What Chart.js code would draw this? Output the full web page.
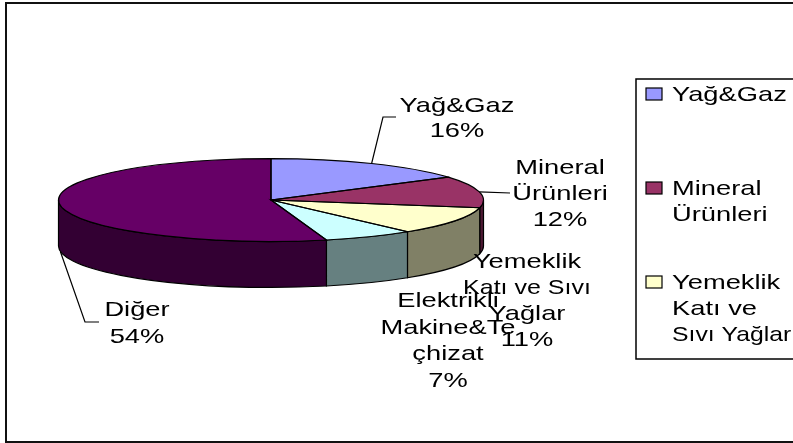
<!DOCTYPE html>
<html>
<head>
<meta charset="utf-8">
<title>Pie</title>
<style>
    html, body { margin: 0; padding: 0; background: #fff; overflow: hidden; }
    canvas { display: block; }
</style>
<script src="https://cdn.jsdelivr.net/npm/chart.js@4/dist/chart.umd.min.js"></script>
</head>
<body>
<canvas id="pie-chart" width="793" height="443"></canvas>
<script>
// values read from the slice edges, the labels show them rounded
var categories = ['Yağ&Gaz', 'Mineral Ürünleri', 'Yemeklik Katı ve Sıvı Yağlar', 'Elektrikli Makine&Teçhizat', 'Diğer'];
var share_values = [15.7, 12.3, 10.9, 6.9, 54.2];
var top_colors = ['#9999FF', '#993366', '#FFFFCC', '#CCFFFF', '#660066'];
var side_colors = ['#4D4D80', '#4D1933', '#808066', '#668080', '#330033'];

// how the labels wrap in the picture
var label_lines = [
    ['Yağ&Gaz'],
    ['Mineral', 'Ürünleri'],
    ['Yemeklik', 'Katı ve Sıvı', 'Yağlar'],
    ['Elektrikli', 'Makine&Te', 'çhizat'],
    ['Diğer']
];
// only three entries fit in the legend box
var legend_lines = [
    ['Yağ&Gaz'],
    ['Mineral', 'Ürünleri'],
    ['Yemeklik', 'Katı ve', 'Sıvı Yağlar']
];

var SQUASH = 0.195;
var DEPTH = 46;
var FONT = '21px "Liberation Sans", Arial, sans-serif';
var STRETCH = 1.3;
// the dotless i runs narrow in the picture
var NARROW_LINES = { 'Katı ve Sıvı': 1.19, 'Sıvı Yağlar': 1.18 };

// center x and first baseline of every label
var label_spots = [[457, 112], [560, 174], [527, 268], [448, 307], [137, 316]];
// line gap per label, the wrapped ones are a bit different
var label_gaps = [25, 26, 26, 26.5, 27];
// leader elbows, first point comes from the slice itself
var leaders = [
    { bend: [[383, 117], [396, 117]], wall: false },
    { bend: [[510, 193]], wall: false },
    null,
    null,
    { bend: [[85, 322], [99, 322]], wall: true }
];
var legend_rows = [
    { marker: 88, baseline: 101 },
    { marker: 182, baseline: 195 },
    { marker: 276, baseline: 289 }
];

function stretchedText(ctx, text, x, y, align) {
    ctx.save();
    ctx.translate(x, y);
    ctx.scale(NARROW_LINES[text] || STRETCH, 1);
    ctx.font = FONT;
    ctx.fillStyle = '#000';
    ctx.textAlign = align;
    ctx.textBaseline = 'alphabetic';
    ctx.fillText(text, 0, 0);
    ctx.restore();
}

function $each(list, fn) {
    for (var i = 0; i < list.length; i++) {
        fn(list[i], i);
    }
}

var Pie3d = {
    id: 'pie3d',
    beforeDatasetsDraw: function (chart) {
        var ctx = chart.ctx;
        var arcs = chart.getDatasetMeta(0).data;

        // side walls, only the part facing us
        ctx.save();
        ctx.lineWidth = 1.2;
        ctx.strokeStyle = '#000';
        $each(arcs, function (arc, idx) {
            var from = Math.max(arc.startAngle, 0);
            var to = Math.min(arc.endAngle, Math.PI);
            if (to <= from) {
                return;
            }
            var rx = arc.outerRadius;
            var ry = rx * SQUASH;
            ctx.beginPath();
            ctx.ellipse(arc.x, arc.y, rx, ry, 0, from, to);
            ctx.ellipse(arc.x, arc.y + DEPTH, rx, ry, 0, to, from, true);
            ctx.closePath();
            ctx.fillStyle = side_colors[idx];
            ctx.fill();
            ctx.stroke();
        });
        ctx.restore();

        // the library draws the top of the pie, squashed into an ellipse
        var cy = arcs[0].y;
        ctx.save();
        ctx.translate(0, cy);
        ctx.scale(1, SQUASH);
        ctx.translate(0, -cy);
    },
    afterDatasetsDraw: function (chart) {
        var ctx = chart.ctx;
        var arcs = chart.getDatasetMeta(0).data;
        ctx.restore();

        // outlines go here, a squashed stroke would lose its width
        ctx.save();
        ctx.lineWidth = 1.2;
        ctx.strokeStyle = '#000';
        $each(arcs, function (arc) {
            ctx.beginPath();
            ctx.moveTo(arc.x, arc.y);
            ctx.ellipse(arc.x, arc.y, arc.outerRadius, arc.outerRadius * SQUASH, 0, arc.startAngle, arc.endAngle);
            ctx.closePath();
            ctx.stroke();
        });

        // leader lines
        $each(arcs, function (arc, idx) {
            var leader = leaders[idx];
            if (!leader) {
                return;
            }
            var mid = (arc.startAngle + arc.endAngle) / 2;
            var sx = arc.x + Math.cos(mid) * arc.outerRadius;
            var sy = arc.y + Math.sin(mid) * arc.outerRadius * SQUASH + (leader.wall ? DEPTH : 0);
            ctx.beginPath();
            ctx.moveTo(sx, sy);
            $each(leader.bend, function (p) {
                ctx.lineTo(p[0], p[1]);
            });
            ctx.stroke();
        });
        ctx.restore();

        // data labels
        $each(label_lines, function (lines, idx) {
            var spot = label_spots[idx];
            var all = lines.concat(Math.round(share_values[idx]) + '%');
            $each(all, function (text, n) {
                stretchedText(ctx, text, spot[0], spot[1] + n * label_gaps[idx], 'center');
            });
        });

        // legend box runs past the right edge like in the picture
        ctx.save();
        ctx.lineWidth = 1.5;
        ctx.strokeStyle = '#000';
        ctx.strokeRect(636, 79, 170, 280);
        ctx.lineWidth = 1.2;
        $each(legend_lines, function (lines, idx) {
            var row = legend_rows[idx];
            ctx.fillStyle = top_colors[idx];
            ctx.fillRect(646, row.marker, 16, 12);
            ctx.strokeRect(646, row.marker, 16, 12);
            $each(lines, function (text, n) {
                stretchedText(ctx, text, 672, row.baseline + n * 26, 'left');
            });
        });
        ctx.restore();

        // outer frame
        ctx.save();
        ctx.lineWidth = 2;
        ctx.strokeStyle = '#111';
        ctx.strokeRect(6, 3, 800, 439);
        ctx.restore();
    }
};

var ctx = document.getElementById('pie-chart');
var PieChart = new Chart(ctx, {
    type: 'pie',
    data: {
        labels: categories,
        datasets: [{
            data: share_values,
            backgroundColor: top_colors,
            borderWidth: 0,
            clip: false
        }]
    },
    plugins: [Pie3d],
    options: {
        responsive: false,
        animation: false,
        radius: 212.5,
        layout: {
            padding: { left: 0, right: 251, top: 0, bottom: 43 }
        },
        plugins: {
            legend: { display: false },
            tooltip: { enabled: false }
        }
    }
});
</script>
</body>
</html>
